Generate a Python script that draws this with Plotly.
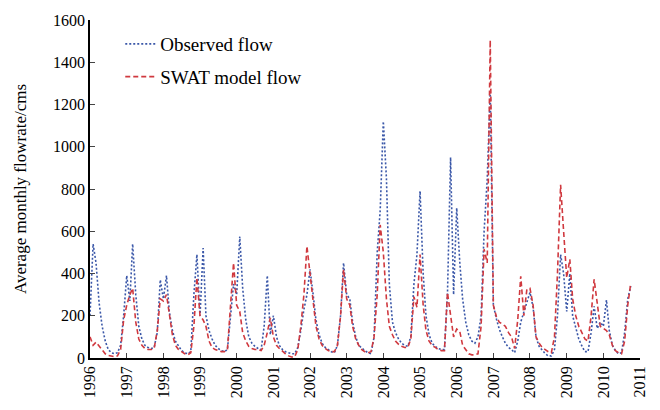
import plotly.graph_objects as go
import pandas as pd

# Monthly values, Jan 1996 .. Oct 2010
observed = [
    # 1996
    200, 540, 450, 260, 150, 80, 40, 25, 20, 25, 60, 200,
    # 1997
    390, 270, 540, 300, 150, 90, 60, 50, 45, 50, 120, 370,
    # 1998
    280, 390, 220, 130, 80, 55, 35, 25, 20, 30, 300, 490,
    # 1999
    200, 520, 200, 130, 90, 60, 45, 35, 30, 40, 200, 350,
    # 2000
    300, 575, 330, 180, 100, 70, 55, 45, 40, 150, 390, 110,
    # 2001
    200, 100, 60, 40, 30, 25, 20, 20, 50, 130, 230, 300,
    # 2002
    420, 300, 180, 110, 70, 50, 40, 30, 25, 60, 200, 450,
    # 2003
    300, 280, 170, 100, 60, 45, 35, 25, 20, 100, 500, 700,
    # 2004
    1120, 850, 350, 170, 120, 90, 70, 60, 55, 100, 350, 490,
    # 2005
    790, 400, 200, 110, 70, 55, 45, 40, 40, 300, 950, 300,
    # 2006
    710, 450, 280, 170, 110, 80, 70, 100, 200, 600, 845, 1260,
    # 2007
    250, 184, 137, 100, 70, 50, 40, 25, 80, 170, 217, 260,
    # 2008
    311, 240, 100, 55, 35, 20, 10, 10, 40, 200, 490, 400,
    # 2009
    220, 400, 200, 150, 90, 57, 30, 30, 120, 245, 140, 170,
    # 2010
    150, 275, 130, 60, 35, 20, 25, 120, 280, 340,
]

swat = [
    # 1996
    100, 60, 75, 55, 35, 20, 12, 8, 6, 10, 40, 180,
    # 1997
    250, 300, 330, 170, 90, 60, 45, 40, 40, 45, 130, 280,
    # 1998
    270, 300, 200, 110, 60, 40, 30, 20, 15, 25, 150, 380,
    # 1999
    200, 180, 150, 80, 50, 40, 35, 30, 30, 40, 250, 450,
    # 2000
    250, 220, 120, 80, 55, 45, 40, 40, 35, 60, 120, 190,
    # 2001
    100, 60, 45, 30, 20, 10, 5, 5, 40, 150, 300, 530,
    # 2002
    400, 280, 150, 90, 60, 45, 35, 30, 30, 60, 200, 420,
    # 2003
    280, 250, 150, 90, 60, 40, 30, 25, 30, 100, 300, 630,
    # 2004
    500, 280, 150, 110, 80, 65, 55, 50, 50, 90, 290, 240,
    # 2005
    490, 250, 130, 80, 60, 50, 40, 35, 35, 310, 200, 100,
    # 2006
    137, 125, 60, 40, 20, 15, 15, 20, 150, 515, 450, 1505,
    # 2007
    250, 195, 170, 160, 150, 120, 100, 45, 180, 387, 200, 325,
    # 2008
    330, 250, 100, 70, 50, 40, 30, 25, 100, 400, 820, 600,
    # 2009
    380, 467, 280, 200, 150, 120, 90, 80, 200, 373, 250, 150,
    # 2010
    140, 130, 110, 60, 35, 25, 20, 80, 250, 355,
]

dates = pd.date_range("1996-01-01", periods=len(observed), freq="MS")

SERIF = "Liberation Serif, Times New Roman, serif"

fig = go.Figure()
fig.add_trace(go.Scatter(
    x=dates, y=observed, mode="lines", name="Observed flow",
    legendgroup="obs",
    line=dict(color="#3a57a8", width=1.6, dash="2px,2px"),
))
fig.add_trace(go.Scatter(
    x=dates, y=swat, mode="lines", name="SWAT model flow",
    legendgroup="swat",
    line=dict(color="#d0393f", width=1.6, dash="5px,3px"),
))

fig.update_layout(
    width=660, height=410,
    margin=dict(l=90, r=16, t=20, b=51),
    paper_bgcolor="white", plot_bgcolor="white",
    font=dict(family=SERIF, size=16, color="black"),
    showlegend=True,
    legend=dict(
        x=0.055, y=0.985, xanchor="left", yanchor="top",
        bgcolor="rgba(0,0,0,0)", font=dict(family=SERIF, size=19),
        tracegroupgap=5,
    ),
    xaxis=dict(
        type="date",
        range=["1996-01-01", "2011-01-01"],
        tick0="1996-01-01", dtick="M12", tickformat="%Y",
        tickangle=-90, ticks="inside", ticklen=5,
        showline=True, linecolor="black", linewidth=1.5,
        showgrid=False, zeroline=False,
        tickfont=dict(family=SERIF, size=16),
    ),
    yaxis=dict(
        range=[0, 1600], dtick=200,
        ticks="inside", ticklen=5,
        showline=True, linecolor="black", linewidth=1.5,
        showgrid=False, zeroline=False,
        tickfont=dict(family=SERIF, size=16),
        title=dict(text="Average monthly flowrate/cms",
                   font=dict(family=SERIF, size=17), standoff=22),
    ),
)

fig.write_html("out.html")
